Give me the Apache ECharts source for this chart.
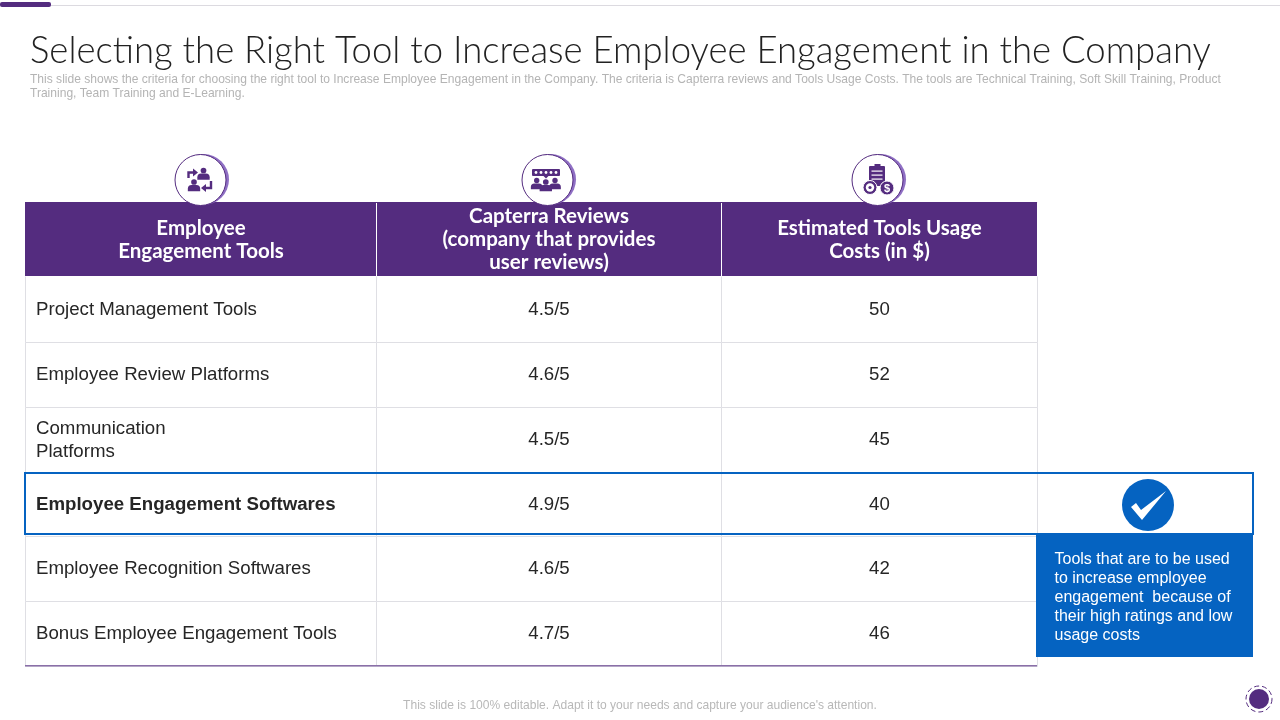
<!DOCTYPE html>
<html>
<head>
<meta charset="utf-8">
<style>html,body{margin:0;padding:0;background:#fff}#main{width:1280px;height:720px}</style>
<script src="https://cdn.jsdelivr.net/npm/echarts@6/dist/echarts.min.js"></script>
</head>
<body>
<div id="main"></div>
<script>
var titleText = 'Selecting the Right Tool to Increase Employee Engagement in the Company';
var subLines = [
    'This slide shows the criteria for choosing the right tool to Increase Employee Engagement in the Company. The criteria is Capterra reviews and Tools Usage Costs. The tools are Technical Training, Soft Skill Training, Product',
    'Training, Team Training and E-Learning.'
];
var headers = ['Employee\nEngagement Tools', 'Capterra Reviews\n(company that provides\nuser reviews)', 'Estimated Tools Usage\nCosts (in $)'];
var tools = ['Project Management Tools', 'Employee Review Platforms', 'Communication\nPlatforms', 'Employee Engagement Softwares', 'Employee Recognition Softwares', 'Bonus Employee Engagement Tools'];
var ratings = [4.5, 4.6, 4.5, 4.9, 4.6, 4.7];
var costs = [50, 52, 45, 40, 42, 46];
var bestRow = 3;
var noteText = 'Tools that are to be used\nto increase employee\nengagement  because of\ntheir high ratings and low\nusage costs';
var footText = "This slide is 100% editable. Adapt it to your needs and capture your audience's attention.";

var purple = '#542c7f';
var blue = '#0563c1';
var colWidths = [351, 345, 316];
var rowHeights = [74, 66, 65, 65, 64, 65, 65];

var cells = [];
headers.forEach(function (h, i) {
    cells.push({
        coord: [i, 0], value: h,
        itemStyle: { color: purple, borderColor: '#fff', borderWidth: 1 },
        label: { color: '#fff', fontFamily: 'Lato', fontWeight: 'bold', fontSize: 20.5, lineHeight: 23 }
    });
});
tools.forEach(function (t, r) {
    cells.push({
        coord: [0, r + 1], value: t,
        label: {
            align: 'left', position: 'insideLeft', distance: 7.5, fontSize: 18.67, lineHeight: 23, color: '#262626',
            fontWeight: r === bestRow ? 'bold' : 'normal'
        }
    });
    cells.push({ coord: [1, r + 1], value: ratings[r] + '/5' });
    cells.push({ coord: [2, r + 1], value: String(costs[r]) });
});

function person(x, y, s) {
    return [
        { type: 'circle', shape: { cx: x, cy: y, r: 3 * s }, style: { fill: purple } },
        { type: 'rect', shape: { x: x - 6.5 * s, y: y + 3.2 * s, width: 13 * s, height: 6.5 * s, r: [4 * s, 4 * s, 0, 0] }, style: { fill: purple } }
    ];
}

var g = [
    { type: 'rect', shape: { x: 0, y: 5, width: 1280, height: 1 }, style: { fill: '#dcdae0' } },
    { type: 'rect', shape: { x: 0, y: 2, width: 51, height: 5, r: 2 }, style: { fill: purple } },
    { type: 'text', x: 30, y: 73.5, style: { text: subLines[0], fill: '#b4b4b4', font: '12.05px "Liberation Sans"', textVerticalAlign: 'top' } },
    { type: 'text', x: 30, y: 87.5, style: { text: subLines[1], fill: '#b4b4b4', font: '12.05px "Liberation Sans"', textVerticalAlign: 'top' } },
    { type: 'rect', shape: { x: 25, y: 202, width: 1012, height: 1 }, style: { fill: purple } },
    { type: 'rect', shape: { x: 25, y: 202, width: 1, height: 74 }, style: { fill: purple } },
    { type: 'rect', shape: { x: 25, y: 665, width: 1012, height: 1.5 }, style: { fill: '#8a6fa8' } },
    // highlight frame and note
    { type: 'rect', shape: { x: 25, y: 473, width: 1228, height: 61 }, style: { fill: 'none', stroke: blue, lineWidth: 2 } },
    { type: 'rect', shape: { x: 1036, y: 534, width: 217, height: 123 }, style: { fill: blue } },
    { type: 'text', x: 1054.5, y: 550, style: { text: noteText, fill: '#fff', font: '16px "Liberation Sans"', lineHeight: 19, textVerticalAlign: 'top' } },
    { type: 'circle', shape: { cx: 1148, cy: 505, r: 26 }, style: { fill: blue } },
    { type: 'polygon', shape: { points: [[1131, 507], [1136, 503], [1141, 510], [1166, 491], [1142, 520]] }, style: { fill: '#fff' } },
    // footer
    { type: 'text', x: 640, y: 700, style: { text: footText, fill: '#b8b8b8', font: '12.05px "Liberation Sans"', textAlign: 'center', textVerticalAlign: 'top' } },
    { type: 'circle', shape: { cx: 1259, cy: 699, r: 10 }, style: { fill: purple } },
    { type: 'circle', shape: { cx: 1259, cy: 699, r: 13 }, style: { fill: 'none', stroke: purple, lineWidth: 1, lineDash: [5, 3] } }
];

// header icon badges
[[200.5, 180], [547.5, 180], [877.5, 180]].forEach(function (c) {
    g.push({ type: 'circle', shape: { cx: c[0] + 3, cy: c[1] - 0.5, r: 25.5 }, style: { fill: '#8f6fc4' } });
    g.push({ type: 'circle', shape: { cx: c[0], cy: c[1], r: 25.5 }, style: { fill: '#fff', stroke: purple, lineWidth: 1 } });
});
// icon 1
g = g.concat(person(203.5, 170.5, 0.95), person(194, 182, 0.95));
g.push({ type: 'polyline', shape: { points: [[188.5, 178], [188.5, 172.5], [194, 172.5]] }, style: { fill: 'none', stroke: purple, lineWidth: 2.4 } });
g.push({ type: 'polygon', shape: { points: [[193, 168.5], [198, 172.5], [193, 176.5]] }, style: { fill: purple } });
g.push({ type: 'polyline', shape: { points: [[211, 181], [211, 188], [205, 188]] }, style: { fill: 'none', stroke: purple, lineWidth: 2.4 } });
g.push({ type: 'polygon', shape: { points: [[206, 184], [201, 188], [206, 192]] }, style: { fill: purple } });
// icon 2
g.push({ type: 'rect', shape: { x: 532, y: 169, width: 28, height: 7, r: 1 }, style: { fill: purple } });
g.push({ type: 'polygon', shape: { points: [[543.5, 176], [548.5, 176], [546, 178.5]] }, style: { fill: purple } });
[536, 541, 546, 551, 556].forEach(function (x) {
    g.push({ type: 'circle', shape: { cx: x, cy: 172.5, r: 1.4 }, style: { fill: '#fff' } });
});
g = g.concat(person(536.7, 180.5, 0.9), person(555, 180.5, 0.9), person(545.8, 182, 0.95));
// icon 3
g.push({ type: 'rect', shape: { x: 869, y: 166, width: 16, height: 20, r: 1 }, style: { fill: purple } });
g.push({ type: 'rect', shape: { x: 874.5, y: 164, width: 6, height: 3 }, style: { fill: purple } });
[170.5, 174.5, 178.5].forEach(function (y) {
    g.push({ type: 'rect', shape: { x: 871.5, y: y, width: 11, height: 1.2 }, style: { fill: '#fff' } });
});
g.push({ type: 'circle', shape: { cx: 870, cy: 187.5, r: 7 }, style: { fill: purple, stroke: '#fff', lineWidth: 1 } });
g.push({ type: 'circle', shape: { cx: 870, cy: 187.5, r: 4.2 }, style: { fill: '#fff' } });
g.push({ type: 'circle', shape: { cx: 870, cy: 187.5, r: 1.6 }, style: { fill: purple } });
g.push({ type: 'circle', shape: { cx: 887, cy: 188, r: 7 }, style: { fill: purple, stroke: '#fff', lineWidth: 1 } });
g.push({ type: 'text', x: 887, y: 188.5, style: { text: '$', fill: '#fff', font: 'bold 11px "Liberation Sans"', textAlign: 'center', textVerticalAlign: 'middle' } });

var myChart = echarts.init(document.getElementById('main'));
myChart.setOption({
    backgroundColor: '#fff',
    animation: false,
    title: {
        text: titleText, left: 30, top: 33, padding: 0,
        textStyle: { fontFamily: 'Lato', fontWeight: 300, fontSize: 36.5, color: '#222222' }
    },
    matrix: {
        left: 25, top: 202, width: 1012, height: 464,
        x: { show: false, data: colWidths.map(function (w, i) { return { value: 'c' + i, size: w }; }) },
        y: { show: false, data: rowHeights.map(function (h, i) { return { value: 'r' + i, size: h }; }) },
        body: {
            data: cells,
            itemStyle: { color: '#fff', borderColor: '#dfdfe4', borderWidth: 1 },
            label: { show: true, fontFamily: 'Liberation Sans', fontSize: 18.67, color: '#262626' }
        },
        backgroundStyle: { color: '#fff', borderWidth: 0 }
    },
    graphic: { elements: g }
});
</script>
</body>
</html>
